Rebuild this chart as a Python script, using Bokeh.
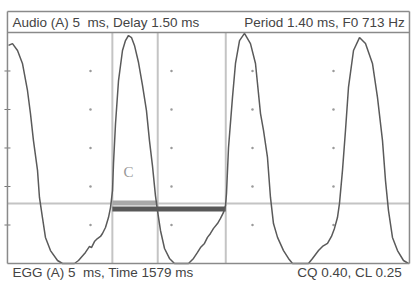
from bokeh.plotting import figure
from bokeh.models import Range1d
from bokeh.core.properties import value
from bokeh.embed import file_html
from bokeh.resources import INLINE

# ---- data (time in ms, amplitude as fraction of panel height) ----
wave_t = [-0.012, 0.037, 0.099, 0.160, 0.222, 0.259, 0.296, 0.346, 0.370, 0.407, 0.444, 0.506,
          0.593, 0.654, 0.802, 0.852, 0.938, 0.988, 1.012, 1.049, 1.086, 1.123, 1.148, 1.185,
          1.222, 1.247, 1.272, 1.284, 1.309, 1.346, 1.395, 1.432, 1.469,
          1.506, 1.543, 1.593, 1.642, 1.691, 1.728, 1.765, 1.802, 1.827, 1.864, 1.914, 1.975,
          2.037, 2.210, 2.272, 2.321, 2.358, 2.407, 2.444, 2.481, 2.519, 2.568, 2.605, 2.642,
          2.667, 2.679, 2.704, 2.753, 2.790, 2.840, 2.901,
          2.975, 3.037, 3.099, 3.136, 3.185, 3.222, 3.259, 3.309, 3.383, 3.444,
          3.494, 3.691, 3.741, 3.815, 3.864, 3.926, 3.975, 4.012, 4.049, 4.074, 4.111, 4.148,
          4.185, 4.247, 4.321,
          4.395, 4.481, 4.543, 4.605, 4.642, 4.679, 4.728, 4.790, 4.864, 4.926]
wave_a = [0.944, 0.952, 0.922, 0.866, 0.749, 0.649, 0.532, 0.403, 0.286, 0.199, 0.113, 0.056,
          0.013, 0.000, 0.000, 0.013, 0.048, 0.074, 0.069, 0.095, 0.108, 0.117, 0.130, 0.156,
          0.199, 0.242, 0.316, 0.433, 0.606, 0.792, 0.922, 0.965, 0.987,
          0.978, 0.944, 0.870, 0.771, 0.662, 0.532, 0.424, 0.294, 0.229, 0.143, 0.065, 0.022,
          0.000, 0.000, 0.022, 0.048, 0.069, 0.087, 0.113, 0.130, 0.152, 0.173, 0.195, 0.221,
          0.251, 0.303, 0.502, 0.719, 0.866, 0.965, 0.996,
          0.952, 0.866, 0.649, 0.576, 0.459, 0.286, 0.173, 0.113, 0.056, 0.022,
          0.000, 0.000, 0.022, 0.056, 0.074, 0.087, 0.117, 0.152, 0.199, 0.260, 0.403, 0.576,
          0.762, 0.922, 0.978,
          0.952, 0.866, 0.719, 0.532, 0.359, 0.229, 0.113, 0.056, 0.013, 0.000]

cursor_t = [1.27, 1.83, 2.67]          # cycle start, contact end, next cycle start (ms)
baseline_a = 0.26                      # criterion level
grid_t = [1, 2, 3, 4]
grid_a = [1/6, 2/6, 3/6, 4/6, 5/6]

header_left = "Audio (A) 5 \u00a0ms, Delay 1.50 ms"
header_right = "Period 1.40 ms, F0 713 Hz"
footer_left = "EGG (A) 5 \u00a0ms, Time 1579 ms"
footer_right = "CQ 0.40, CL 0.25"
marker_text = "C"

# ---- view limits ----
T0, T1 = -0.111, 4.963
A0, A1 = -0.0779, 1.1385
BOX_L, BOX_R = -0.025, 4.938
BOX_B, BOX_DIV, BOX_T = 0.0, 1.0, 1.0909

p = figure(width=411, height=281, output_backend="svg", toolbar_location=None,
           x_axis_type=None, y_axis_type=None, title=None,
           x_range=Range1d(T0, T1), y_range=Range1d(A0, A1), min_border=0)
p.outline_line_color = None
p.grid.visible = False
p.background_fill_color = "white"
p.border_fill_color = "white"

# grid dots
gx = [t for t in grid_t for _ in grid_a]
gy = [a for _ in grid_t for a in grid_a]
p.scatter(gx, gy, size=2.5, color="#9a9a9a", line_color=None)
# left border ticks
p.scatter([BOX_L] * len(grid_a), grid_a, marker="dash", size=6, line_color="#777777", line_width=1)

# criterion line
p.segment(x0=[BOX_L], y0=[baseline_a], x1=[BOX_R], y1=[baseline_a], line_color="#c4c4c4", line_width=2)
# cursor lines
p.segment(x0=cursor_t, y0=[BOX_B] * 3, x1=cursor_t, y1=[BOX_DIV] * 3, line_color="#c4c4c4", line_width=2)

# contact / cycle bars
p.quad(left=[cursor_t[0]], right=[cursor_t[1]], bottom=[baseline_a - 0.009], top=[baseline_a + 0.013],
       fill_color="#a8a8a8", line_color=None)
p.quad(left=[cursor_t[0]], right=[cursor_t[2]], bottom=[0.225], top=[0.247],
       fill_color="#585858", line_color=None)

# waveform
p.line(wave_t, wave_a, line_color="#5a5a5a", line_width=1.5)

# box frame
p.segment(x0=[BOX_L, BOX_R, BOX_L, BOX_L, BOX_L],
          y0=[BOX_B, BOX_B, BOX_B, BOX_DIV, BOX_T],
          x1=[BOX_L, BOX_R, BOX_R, BOX_R, BOX_R],
          y1=[BOX_T, BOX_T, BOX_B, BOX_DIV, BOX_T],
          line_color="#8a8a8a", line_width=1.5)

font = value("Liberation Sans")
p.text(x=[0.037], y=[1.045], text=[header_left], text_font=font, text_font_size="13.5px",
       text_color="#444444", text_align="left", text_baseline="middle")
p.text(x=[4.88], y=[1.045], text=[header_right], text_font=font, text_font_size="13.5px",
       text_color="#444444", text_align="right", text_baseline="middle")
p.text(x=[0.037], y=[-0.04], text=[footer_left], text_font=font, text_font_size="13.5px",
       text_color="#444444", text_align="left", text_baseline="middle")
p.text(x=[4.85], y=[-0.04], text=[footer_right], text_font=font, text_font_size="13.5px",
       text_color="#444444", text_align="right", text_baseline="middle")
p.text(x=[1.469], y=[0.394], text=[marker_text], text_font=value("Liberation Serif"),
       text_font_size="15px", text_color="#999999", text_align="center", text_baseline="middle")

open("out.html", "w").write(file_html(p, INLINE))
